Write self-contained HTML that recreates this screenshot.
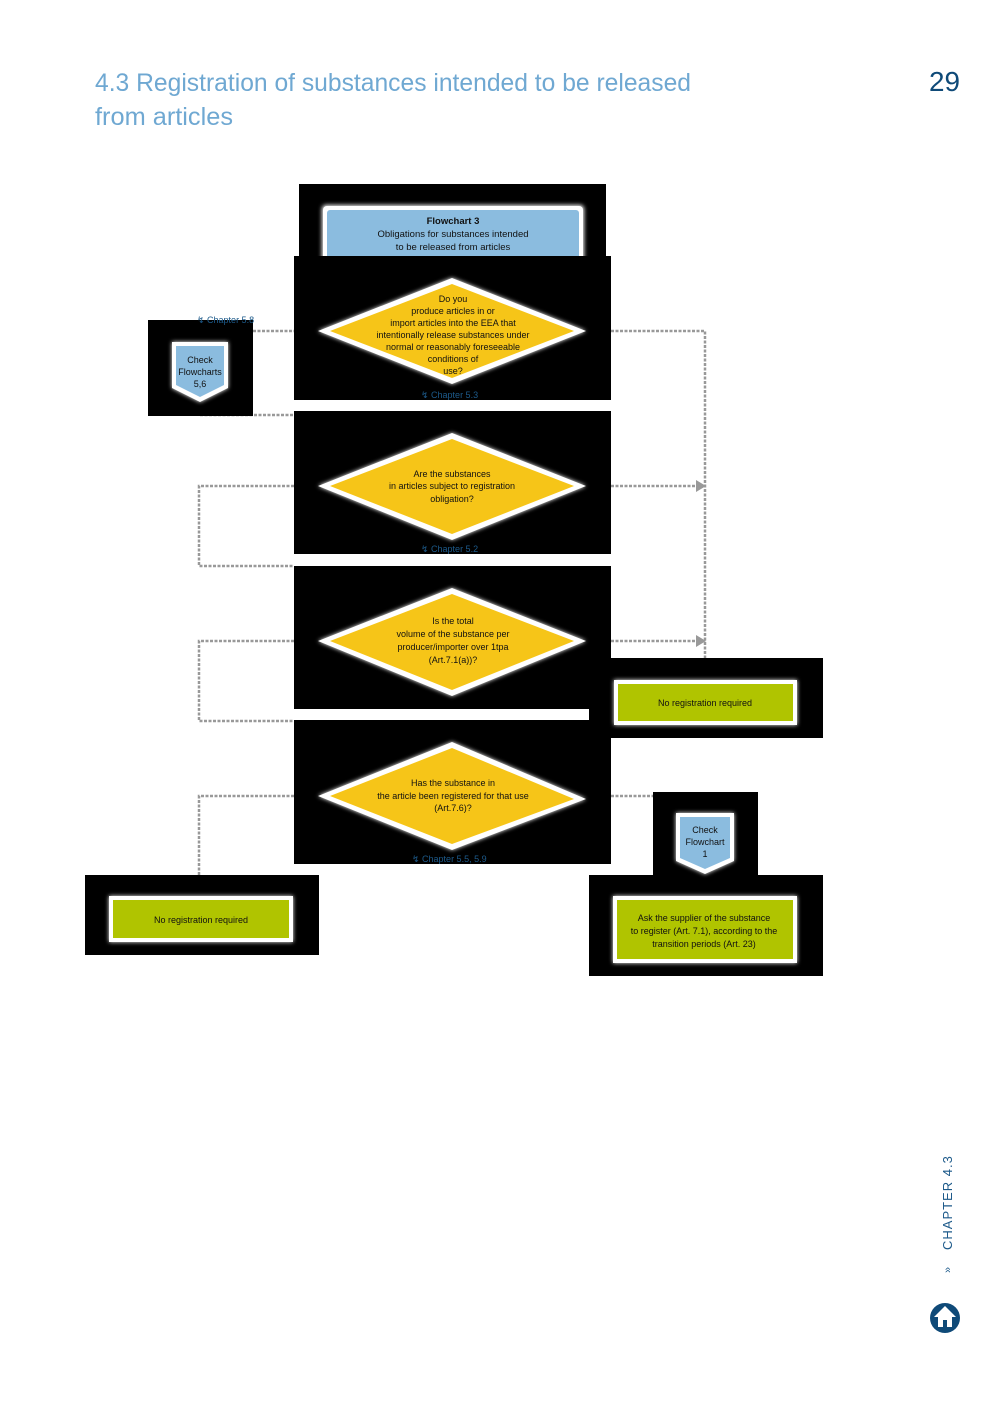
<!DOCTYPE html>
<html><head><meta charset="utf-8">
<style>
html,body{margin:0;padding:0;background:#fff;}
svg{display:block;}
text{font-family:"Liberation Sans Narrow","Liberation Sans",sans-serif;}
</style></head>
<body>
<svg width="992" height="1403" viewBox="0 0 992 1403" xmlns="http://www.w3.org/2000/svg">
<defs>
<filter id="glow" x="-10%" y="-10%" width="120%" height="120%">
<feGaussianBlur stdDeviation="2"/>
</filter>
</defs>
<rect width="992" height="1403" fill="#fff"/>
<!-- Title -->
<text x="95" y="91" font-size="25" fill="#6fa8d2" textLength="596" lengthAdjust="spacingAndGlyphs">4.3 Registration of substances intended to be released</text>
<text x="95" y="125" font-size="25" fill="#6fa8d2" textLength="138" lengthAdjust="spacingAndGlyphs">from articles</text>
<text x="929" y="91" font-size="28" fill="#0f4a78" textLength="31" lengthAdjust="spacingAndGlyphs">29</text>

<!-- dashed connectors -->
<g stroke="#999" stroke-width="2.5" stroke-dasharray="3,1.5" fill="none">
<path d="M611 331 H705 V658"/>
<path d="M611 486 H700"/>
<path d="M611 641 H700"/>
<path d="M294 486 H199 V566 H294"/>
<path d="M294 641 H199 V721 H294"/>
<path d="M294 796 H199 V875"/>
<path d="M611 796 H653"/>
<path d="M253 331 H294"/>
<path d="M200 415 H294"/>
</g>
<polygon points="696,480 706,486 696,492" fill="#999"/>
<polygon points="696,635 706,641 696,647" fill="#999"/>

<!-- black panels -->
<g fill="#000">
<rect x="299" y="184" width="307" height="74"/>
<rect x="294" y="256" width="317" height="144"/>
<rect x="148" y="320" width="105" height="96"/>
<rect x="294" y="411" width="317" height="143"/>
<rect x="294" y="566" width="317" height="143"/>
<rect x="589" y="700" width="22" height="30"/>
<rect x="294" y="720" width="317" height="144"/>
<rect x="611" y="658" width="212" height="80"/>
<rect x="653" y="792" width="105" height="84"/>
<rect x="589" y="875" width="234" height="101"/>
<rect x="85" y="875" width="234" height="80"/>
</g>

<!-- Flowchart 3 header -->
<rect x="322" y="205" width="262" height="60" rx="4" fill="#fff" filter="url(#glow)"/>
<rect x="323" y="206" width="260" height="60" rx="4" fill="#fff"/>
<rect x="327" y="210" width="252" height="56" rx="3" fill="#8bbcdf"/>
<rect x="294" y="256" width="317" height="20" fill="#000"/>
<g font-size="9.5" fill="#111" text-anchor="middle">
<text x="453" y="224" font-weight="bold">Flowchart 3</text>
<text x="453" y="237">Obligations for substances intended</text>
<text x="453" y="250">to be released from articles</text>
</g>

<!-- diamonds -->
<g>
<polygon points="318,331 452,278 586,331 452,384" fill="#fff" filter="url(#glow)"/>
<polygon points="318,331 452,278 586,331 452,384" fill="#fff"/>
<polygon points="330,331 452,284 574,331 452,378" fill="#f6c518"/>
<polygon points="318,486 452,433 586,486 452,540" fill="#fff" filter="url(#glow)"/>
<polygon points="318,486 452,433 586,486 452,540" fill="#fff"/>
<polygon points="330,486 452,439 574,486 452,534" fill="#f6c518"/>
<polygon points="318,641 452,588 586,641 452,696" fill="#fff" filter="url(#glow)"/>
<polygon points="318,641 452,588 586,641 452,696" fill="#fff"/>
<polygon points="330,641 452,594 574,641 452,690" fill="#f6c518"/>
<polygon points="318,796 452,742 586,799 452,850" fill="#fff" filter="url(#glow)"/>
<polygon points="318,796 452,742 586,799 452,850" fill="#fff"/>
<polygon points="330,796 452,748 574,799 452,844" fill="#f6c518"/>
</g>
<g font-size="9" fill="#111" text-anchor="middle">
<text x="453" y="302">Do you</text>
<text x="453" y="314">produce articles in or</text>
<text x="453" y="326">import articles into the EEA that</text>
<text x="453" y="338">intentionally release substances under</text>
<text x="453" y="350">normal or reasonably foreseeable</text>
<text x="453" y="362">conditions of</text>
<text x="453" y="374">use?</text>
<text x="452" y="477">Are the substances</text>
<text x="452" y="489">in articles subject to registration</text>
<text x="452" y="502">obligation?</text>
<text x="453" y="624">Is the total</text>
<text x="453" y="637">volume of the substance per</text>
<text x="453" y="650">producer/importer over 1tpa</text>
<text x="453" y="663">(Art.7.1(a))?</text>
<text x="453" y="786">Has the substance in</text>
<text x="453" y="799">the article been registered for that use</text>
<text x="453" y="811">(Art.7.6)?</text>
</g>
<g font-size="9" fill="#1d5a8a">
<text x="421" y="398">↯ Chapter 5.3</text>
<text x="421" y="552">↯ Chapter 5.2</text>
<text x="412" y="862">↯ Chapter 5.5, 5.9</text>
<text x="197" y="323">↯ Chapter 5.8</text>
</g>

<!-- check pentagons -->
<polygon points="172,342 228,342 228,388 200,402 172,388" fill="#fff" filter="url(#glow)"/>
<polygon points="172,342 228,342 228,388 200,402 172,388" fill="#fff"/>
<polygon points="176,346 224,346 224,385 200,397 176,385" fill="#8bbcdf"/>
<g font-size="9" fill="#111" text-anchor="middle">
<text x="200" y="363">Check</text>
<text x="200" y="375">Flowcharts</text>
<text x="200" y="387">5,6</text>
</g>
<polygon points="676,813 734,813 734,861 705,874 676,861" fill="#fff" filter="url(#glow)"/>
<polygon points="676,813 734,813 734,861 705,874 676,861" fill="#fff"/>
<polygon points="680,817 730,817 730,858 705,869 680,858" fill="#8bbcdf"/>
<g font-size="9" fill="#111" text-anchor="middle">
<text x="705" y="833">Check</text>
<text x="705" y="845">Flowchart</text>
<text x="705" y="857">1</text>
</g>

<!-- green boxes -->
<rect x="614" y="680" width="183" height="45" fill="#fff" filter="url(#glow)"/>
<rect x="614" y="680" width="183" height="45" fill="#fff"/>
<rect x="618" y="684" width="175" height="37" fill="#b0c400"/>
<text x="705" y="706" font-size="9" fill="#111" text-anchor="middle">No registration required</text>

<rect x="109" y="896" width="184" height="46" fill="#fff" filter="url(#glow)"/>
<rect x="109" y="896" width="184" height="46" fill="#fff"/>
<rect x="113" y="900" width="176" height="38" fill="#b0c400"/>
<text x="201" y="923" font-size="9" fill="#111" text-anchor="middle">No registration required</text>

<rect x="613" y="896" width="184" height="67" fill="#fff" filter="url(#glow)"/>
<rect x="613" y="896" width="184" height="67" fill="#fff"/>
<rect x="617" y="900" width="176" height="59" fill="#b0c400"/>
<g font-size="9" fill="#111" text-anchor="middle">
<text x="704" y="921">Ask the supplier of the substance</text>
<text x="704" y="934">to register (Art. 7.1), according to the</text>
<text x="704" y="947">transition periods (Art. 23)</text>
</g>

<!-- side nav -->
<text transform="translate(952,1250) rotate(-90)" font-size="13" fill="#1d5a8a" letter-spacing="1">CHAPTER 4.3</text>
<text transform="translate(951,1273) rotate(-90)" font-size="11" fill="#1d5a8a">»</text>
<circle cx="945" cy="1318" r="15" fill="#0f4a78"/>
<polygon points="945,1306 956,1317 952,1317 952,1327 938,1327 938,1317 934,1317" fill="#fff"/>
<rect x="943" y="1320" width="4" height="7" fill="#0f4a78"/>
</svg>
</body></html>
